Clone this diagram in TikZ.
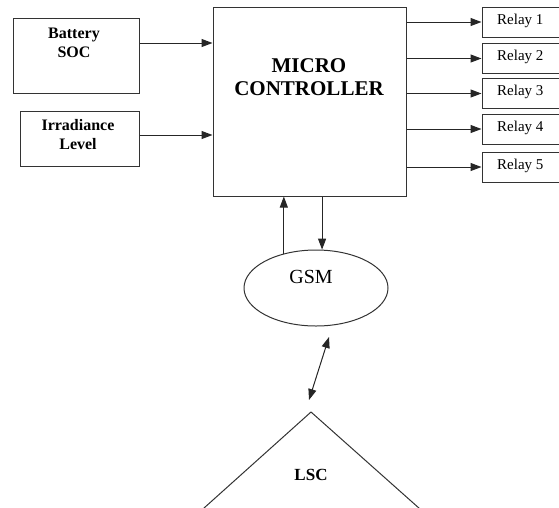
\documentclass[tikz,border=0pt]{standalone}
\usepackage{fontspec}
\setmainfont{Liberation Serif}
\usetikzlibrary{shapes.geometric, arrows.meta, positioning, calc}

\begin{document}
\begin{tikzpicture}[x=1pt, y=-1pt,
  box/.style={rectangle, draw=black!80, line width=1pt, inner sep=0pt},
  boxtext/.style={align=center, font=\fontsize{16}{19}\selectfont\bfseries, inner sep=0pt},
  relaytext/.style={anchor=west, font=\fontsize{15}{16}\selectfont, inner sep=0pt},
  arr/.style={draw=black!85, line width=1pt, -{Triangle[length=11pt, width=8pt]}},
  darr/.style={draw=black!85, line width=1pt, {Triangle[length=11pt, width=8pt]}-{Triangle[length=11pt, width=8pt]}}
]
\useasboundingbox (0,0) rectangle (559,507);
\clip (0,0) rectangle (559,507);

% inputs
\node[box, minimum width=126pt, minimum height=75pt] (bat) at (76,55.5) {};
\node[boxtext] (battxt) at (74,42.5) {Battery\\SOC};
\node[box, minimum width=119pt, minimum height=55pt] (irr) at (79.5,138.5) {};
\node[boxtext] (irrtxt) at (78,134.5) {Irradiance\\Level};

% controller
\node[box, minimum width=193pt, minimum height=189pt] (mc) at (309.5,101.5) {};
\node[boxtext, font=\fontsize{21}{23}\selectfont\bfseries] (mctxt) at (309,77) {MICRO\\CONTROLLER};

\draw[arr] (bat.east |- 0,43) -- (mc.west |- 0,43);
\draw[arr] (irr.east |- 0,135) -- (mc.west |- 0,135);

% relays
\foreach \i/\y in {1/22, 2/58.5, 3/93.5, 4/129, 5/167} {
  \node[box, minimum width=82pt, minimum height=30pt] (relay\i) at (523,\y) {};
  \node[relaytext] (relaytxt\i) at (497,\y-1.5) {Relay \i};
  \draw[arr] (mc.east |- relay\i) -- (relay\i.west);
}

% gsm link
\node[ellipse, draw=black!80, line width=1pt, minimum width=144pt, minimum height=76pt, inner sep=0pt] (gsm) at (316,288) {};
\node[font=\fontsize{20}{22}\selectfont, inner sep=0pt] (gsmtxt) at (311,277) {GSM};
\draw[arr] (gsm.133) -- (gsm.133 |- mc.south);
\draw[arr] (mc.south -| gsm.81) -- (gsm.81);

% lsc
\coordinate (lsc) at (311,412);
\coordinate (lnkA) at (329,337);
\coordinate (lnkB) at (309,400);
\draw[darr] (lnkA) -- (lnkB);
\draw[draw=black!80, line width=1pt] ($(lsc)+(-117,105)$) -- (lsc) -- ($(lsc)+(118,105)$);
\node[font=\fontsize{17}{19}\selectfont\bfseries, inner sep=0pt] (lsctxt) at (311,475) {LSC};
\end{tikzpicture}
\end{document}
